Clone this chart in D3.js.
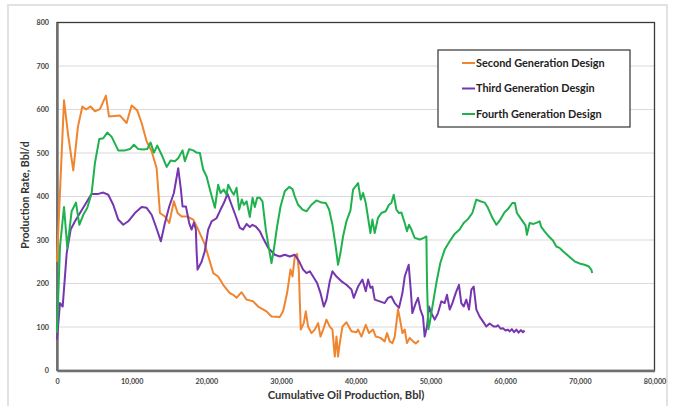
<!DOCTYPE html>
<html>
<head>
<meta charset="utf-8">
<script src="https://cdn.jsdelivr.net/npm/d3@7"></script>
<style>
  html, body { margin: 0; padding: 0; background: #fff; }
  svg { display: block; }
</style>
</head>
<body>
<svg id="chart" width="675" height="406"></svg>
<script>
// Cumulative oil production (Bbl) vs production rate (Bbl/d), one array per design
const secondGen = [
  [0,250],[450,430],[940,621],[1500,540],[2180,460],[2800,560],[3390,607],[3880,600],[4500,607],
  [5080,596],[5750,601],[6550,632],[6960,584],[8430,586],[9320,569],[9990,609],[10740,598],
  [11330,569],[12000,527],[12670,504],[13340,465],[13780,362],[14450,354],[15030,339],[15650,389],
  [16150,362],[16680,354],[17430,354],[18240,347],[18900,324],[19800,290],[20300,260],[20920,224],
  [21580,216],[22250,197],[23140,178],[23590,174],[24040,167],[24710,180],[25380,163],[26260,159],
  [26930,147],[28050,136],[28720,124],[29830,123],[30270,136],[30810,178],[31260,232],[31530,216],
  [31840,262],[32150,268],[32370,232],[32640,94],[33040,109],[33310,136],[33620,101],[34070,86],
  [34510,94],[34960,109],[35280,78],[35720,98],[36080,117],[36520,101],[36880,94],[37190,32],
  [37420,78],[37630,32],[37860,63],[38220,101],[38750,111],[39420,90],[40090,88],[40310,94],
  [40760,78],[41340,105],[41780,86],[42320,94],[42680,78],[43310,75],[43880,67],[44190,86],
  [44550,67],[44910,63],[45220,78],[45660,140],[45890,121],[46250,86],[46560,94],[46860,63],
  [47220,75],[47670,67],[48030,62],[48470,69]
];

const thirdGen = [
  [0,71],[400,155],[760,147],[1300,270],[1830,324],[2410,343],[3080,362],[3750,381],[4640,406],
  [5530,406],[6190,409],[6860,404],[7530,381],[8200,347],[8870,335],[9540,343],[10430,362],
  [11330,376],[12000,374],[12670,358],[13240,331],[13910,297],[14450,339],[15030,377],[15650,408],
  [16230,465],[16590,416],[16810,377],[17260,377],[17700,339],[18020,324],[18330,340],[18590,324],
  [18690,274],[18820,232],[19360,250],[19800,275],[20240,324],[20700,343],[21360,350],[21900,370],
  [22340,385],[22830,406],[23370,381],[23950,354],[24480,328],[24920,324],[25380,337],[25820,330],
  [26180,335],[26620,331],[27160,320],[27690,301],[28270,282],[28720,274],[29160,266],[29830,262],
  [30500,266],[31170,262],[31840,266],[32420,251],[32950,232],[33400,224],[33850,228],[34290,216],
  [34830,201],[35280,178],[35720,147],[36080,163],[36520,205],[36880,228],[37420,216],[38090,205],
  [38750,197],[39420,186],[39730,167],[40310,193],[40890,209],[41340,182],[41650,209],[41960,190],
  [42230,193],[42540,163],[43210,159],[43880,155],[44320,167],[44770,170],[45220,155],[45790,144],
  [46250,178],[46560,216],[47090,243],[47360,186],[47580,132],[48030,155],[48340,167],[48650,140],
  [49000,124],[49230,78],[49540,101],[49810,147],[50130,132],[50570,117],[51010,132],[51460,159],
  [51910,155],[52220,174],[52580,140],[52940,155],[53380,178],[53820,197],[54130,155],[54450,147],
  [54800,163],[55160,140],[55480,186],[55790,193],[56150,140],[56590,124],[57030,113],[57480,101],
  [57930,108],[58460,101],[58830,101],[59040,104],[59400,96],[59710,97],[60050,92],[60380,94],
  [60600,90],[60900,95],[61200,88],[61500,94],[61800,87],[62100,93],[62380,88],[62600,92]
];

const fourthGen = [
  [0,87],[400,285],[940,376],[1380,282],[1960,366],[2540,386],[2990,335],[3520,358],[4060,374],
  [4640,408],[5080,477],[5660,532],[6190,534],[6730,547],[7320,537],[8200,506],[9100,506],
  [9770,509],[10300,519],[10880,509],[11550,508],[12080,509],[12530,524],[12980,501],[13420,517],
  [14010,496],[14680,468],[15210,483],[15790,481],[16230,488],[16810,506],[17120,481],[17700,509],
  [18240,506],[18690,501],[19130,500],[19570,462],[20030,446],[20470,416],[21140,374],[21580,427],
  [21900,408],[22340,416],[22700,404],[22920,427],[23370,412],[23680,404],[24040,420],[24390,370],
  [24750,393],[25020,381],[25380,389],[25820,353],[26180,397],[26490,376],[26800,397],[27160,397],
  [27510,389],[27960,324],[28400,278],[28720,247],[29030,278],[29470,331],[29930,377],[30500,412],
  [31080,422],[31530,417],[31840,400],[32280,381],[32870,370],[33400,366],[34070,381],[34740,391],
  [35410,386],[35990,385],[36430,370],[36880,335],[37320,285],[37630,243],[37950,270],[38300,308],
  [38750,343],[39290,368],[39640,416],[40310,431],[40670,393],[40980,408],[41340,385],[41650,351],
  [41960,316],[42230,347],[42540,316],[42980,351],[43430,362],[44010,366],[44450,381],[44770,385],
  [45080,404],[45440,370],[45790,362],[46120,363],[46560,339],[46860,320],[47130,335],[47450,324],
  [47890,305],[48560,301],[49100,305],[49460,308],[49540,201],[49720,95],[49900,109],[50340,155],
  [50790,201],[51320,247],[51910,278],[52580,297],[53240,314],[53910,324],[54450,339],[55020,348],
  [55610,362],[56150,393],[56680,389],[57260,386],[57700,374],[58290,351],[58830,335],[59360,347],
  [59930,364],[60380,371],[60960,385],[61310,385],[61580,362],[62030,351],[62470,340],[62740,333],
  [62920,312],[63280,339],[63810,337],[64250,340],[64620,343],[64840,330],[65280,320],[65860,308],
  [66400,299],[66850,285],[67290,282],[67740,274],[68180,268],[68630,261],[69300,251],[69970,246],
  [70640,243],[71210,239],[71530,232],[71660,224]
];

const seriesNames = ["Second Generation Design", "Third Generation Desgin", "Fourth Generation Design"];
const seriesColors = ["#f08530", "#7536b0", "#1fb14e"];
const xTicks = [0, 10000, 20000, 30000, 40000, 50000, 60000, 70000, 80000];
const yTicks = [0, 100, 200, 300, 400, 500, 600, 700, 800];
const xTitle = "Cumulative Oil Production, Bbl)";
const yTitle = "Production Rate, Bbl/d";

const svg = d3.select("#chart");
const font = "Lato, 'Liberation Sans', sans-serif";

// outer frame
svg.append("rect")
  .attr("x", 8).attr("y", 5).attr("width", 659).attr("height", 410)
  .attr("fill", "#fff").attr("stroke", "#e2e2e2").attr("stroke-width", 2);

const x = d3.scaleLinear().domain([0, 80000]).range([57, 654.5]);
const y = d3.scaleLinear().domain([0, 800]).range([370.5, 22.5]);

// horizontal gridlines
svg.append("g").selectAll("line")
  .data(yTicks.filter(t => t > 0 && t < 800))
  .join("line")
  .attr("x1", x(0)).attr("x2", x(80000))
  .attr("y1", d => y(d)).attr("y2", d => y(d))
  .attr("stroke", "#dadada").attr("stroke-width", 1.2);

// plot frame
svg.append("rect")
  .attr("x", x(0)).attr("y", y(800))
  .attr("width", x(80000) - x(0)).attr("height", y(0) - y(800))
  .attr("fill", "none").attr("stroke", "#3a3a3a").attr("stroke-width", 1.3);

// axes
const yAxis = d3.axisLeft(y).tickValues(yTicks).tickSize(0).tickPadding(8).tickFormat(d3.format("d"));
const xAxis = d3.axisBottom(x).tickValues(xTicks).tickSize(0).tickPadding(8).tickFormat(d3.format(","));

const gy = svg.append("g").attr("transform", `translate(${x(0)},0)`).call(yAxis);
const gx = svg.append("g").attr("transform", `translate(0,${y(0)})`).call(xAxis);
[gx, gy].forEach(g => {
  g.select(".domain").attr("stroke", "#6f6f6f").attr("stroke-width", 2.4);
  g.selectAll("text")
    .attr("font-family", font).attr("font-size", 7.2).attr("font-weight", "bold")
    .attr("fill", "#444");
});

// series lines
const line = d3.line().x(d => x(d[0])).y(d => y(d[1]));
[secondGen, thirdGen, fourthGen].forEach((data, i) => {
  svg.append("path")
    .datum(data)
    .attr("d", line)
    .attr("fill", "none")
    .attr("stroke", seriesColors[i])
    .attr("stroke-width", 2)
    .attr("stroke-linejoin", "round");
});

// axis titles
svg.append("text")
  .attr("x", 346).attr("y", 399)
  .attr("text-anchor", "middle")
  .attr("font-family", font).attr("font-size", 11.2).attr("font-weight", "bold")
  .attr("fill", "#333").text(xTitle);

svg.append("text")
  .attr("transform", "translate(29,195) rotate(-90)")
  .attr("text-anchor", "middle")
  .attr("font-family", font).attr("font-size", 10.6).attr("font-weight", "bold")
  .attr("fill", "#333").text(yTitle);

// legend
const legend = svg.append("g");
legend.append("rect")
  .attr("x", 438).attr("y", 50).attr("width", 192).attr("height", 77)
  .attr("fill", "#fff").attr("stroke", "#333").attr("stroke-width", 1.2);
const rows = [63, 88.5, 114];
seriesNames.forEach((name, i) => {
  legend.append("line")
    .attr("x1", 462).attr("x2", 475).attr("y1", rows[i]).attr("y2", rows[i])
    .attr("stroke", seriesColors[i]).attr("stroke-width", 2);
  legend.append("text")
    .attr("x", 476).attr("y", rows[i] + 3.8)
    .attr("font-family", font).attr("font-size", 10.9).attr("font-weight", "bold")
    .attr("fill", "#222").text(name);
});
</script>
</body>
</html>
